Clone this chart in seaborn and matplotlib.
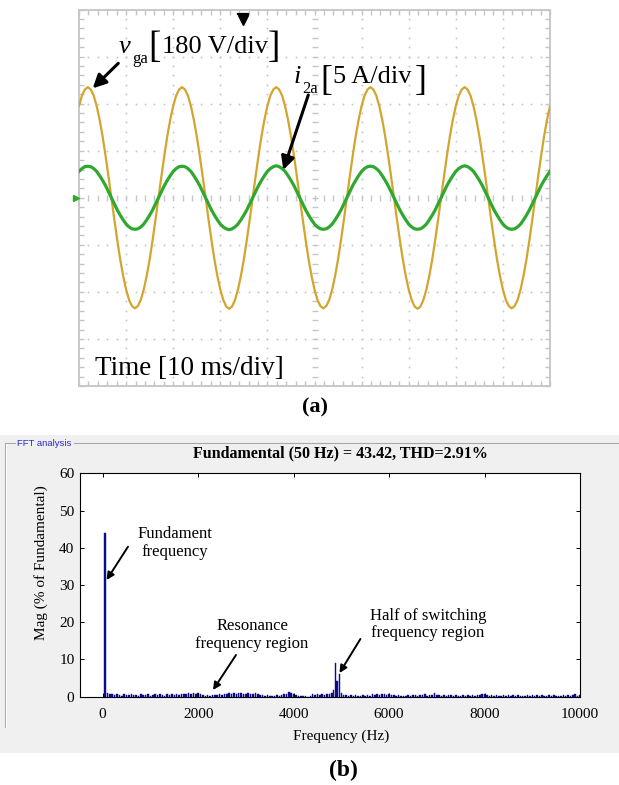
import numpy as np
import pandas as pd
import matplotlib
matplotlib.use("Agg")
import matplotlib.pyplot as plt
import seaborn as sns
from matplotlib.patches import Rectangle, FancyArrowPatch
from matplotlib.lines import Line2D

# ---------------- panel (a): oscilloscope capture (values in divisions) ----------------
sample_ms = 0.625          # spacing of the values
time_per_div_ms = 10
voltage_div = [
    1.95, 2.17, 2.30, 2.35, 2.30, 2.17, 1.95, 1.66, 1.31, 0.90, 0.46, 0.00, -0.46, -0.90, -1.31, -1.66,
    -1.95, -2.17, -2.30, -2.35, -2.30, -2.17, -1.95, -1.66, -1.31, -0.90, -0.46, 0.00, 0.46, 0.90, 1.31, 1.66,
    1.95, 2.17, 2.30, 2.35, 2.30, 2.17, 1.95, 1.66, 1.31, 0.90, 0.46, 0.01, -0.46, -0.90, -1.31, -1.66,
    -1.95, -2.17, -2.31, -2.36, -2.31, -2.17, -1.95, -1.66, -1.31, -0.90, -0.46, 0.00, 0.46, 0.90, 1.31, 1.66,
    1.95, 2.17, 2.30, 2.35, 2.30, 2.17, 1.95, 1.66, 1.31, 0.90, 0.46, 0.00, -0.46, -0.90, -1.31, -1.66,
    -1.95, -2.17, -2.30, -2.35, -2.30, -2.17, -1.95, -1.66, -1.31, -0.90, -0.46, 0.00, 0.46, 0.90, 1.31, 1.66,
    1.95, 2.17, 2.30, 2.35, 2.30, 2.17, 1.95, 1.66, 1.31, 0.90, 0.46, 0.00, -0.46, -0.90, -1.31, -1.66,
    -1.95, -2.17, -2.31, -2.36, -2.31, -2.17, -1.95, -1.66, -1.31, -0.90, -0.46, 0.00, 0.46, 0.90, 1.31, 1.66,
    1.95, 2.17, 2.30, 2.35, 2.30, 2.17, 1.95, 1.66, 1.31, 0.90, 0.46, 0.00, -0.46, -0.90, -1.31, -1.66,
    -1.95, -2.17, -2.30, -2.35, -2.30, -2.17, -1.95, -1.66, -1.31, -0.90, -0.46, 0.00, 0.46, 0.90, 1.31, 1.66,
    1.95,
]
current_div = [
    0.56, 0.62, 0.66, 0.67, 0.66, 0.62, 0.56, 0.47, 0.37, 0.26, 0.13, 0.00, -0.13, -0.26, -0.37, -0.47,
    -0.56, -0.62, -0.66, -0.67, -0.66, -0.62, -0.56, -0.47, -0.37, -0.26, -0.13, 0.00, 0.13, 0.26, 0.37, 0.47,
    0.56, 0.62, 0.66, 0.67, 0.66, 0.62, 0.56, 0.47, 0.37, 0.26, 0.13, 0.00, -0.13, -0.26, -0.37, -0.47,
    -0.56, -0.62, -0.66, -0.68, -0.66, -0.62, -0.56, -0.47, -0.37, -0.26, -0.13, 0.00, 0.13, 0.26, 0.37, 0.47,
    0.56, 0.62, 0.66, 0.68, 0.66, 0.62, 0.56, 0.47, 0.37, 0.26, 0.13, 0.00, -0.13, -0.26, -0.37, -0.47,
    -0.56, -0.62, -0.66, -0.67, -0.66, -0.62, -0.56, -0.47, -0.37, -0.26, -0.13, 0.00, 0.13, 0.26, 0.37, 0.47,
    0.56, 0.62, 0.66, 0.67, 0.66, 0.62, 0.56, 0.47, 0.37, 0.26, 0.13, 0.00, -0.13, -0.26, -0.37, -0.47,
    -0.56, -0.62, -0.66, -0.67, -0.66, -0.62, -0.56, -0.47, -0.37, -0.26, -0.13, 0.00, 0.13, 0.26, 0.37, 0.47,
    0.56, 0.62, 0.66, 0.68, 0.66, 0.62, 0.56, 0.47, 0.37, 0.26, 0.13, 0.00, -0.13, -0.26, -0.37, -0.47,
    -0.56, -0.62, -0.66, -0.67, -0.66, -0.62, -0.56, -0.47, -0.37, -0.26, -0.13, 0.00, 0.13, 0.26, 0.37, 0.47,
    0.56,
]

# ---------------- panel (b): FFT spectrum (% of fundamental) ----------------
fundamental_hz = [50]
fundamental_mag = [43.9]
noise_low_start_hz, noise_step_hz = 100, 50
noise_low_mag = [
    0.9, 0.6, 0.7, 0.4, 0.6, 0.5, 0.3, 0.6, 0.4, 0.5,
    0.7, 0.4, 0.5, 0.3, 0.6, 0.5, 0.4, 0.6, 0.3, 0.5,
    0.6, 0.4, 0.7, 0.5, 0.3, 0.6, 0.5, 0.7, 0.4, 0.6,
    0.5, 0.8, 0.6, 0.7, 0.9, 0.6, 1.0, 0.8, 1.1, 0.6,
    0.4, 0.3, 0.5, 0.3, 0.4, 0.5, 0.4, 0.6, 0.5, 0.8,
    0.6, 0.9, 0.7, 1.0, 0.6, 0.9, 1.1, 0.8, 0.7, 1.0,
    0.8, 0.6, 0.9, 0.7, 0.5, 0.4, 0.3, 0.4, 0.3, 0.2,
    0.3, 0.4, 0.3, 0.5, 0.6, 0.8, 1.3, 0.9, 0.6, 0.5,
    0.3, 0.2, 0.1, 0.1, 0.0, 0.1, 0.6, 0.4, 0.7, 0.5,
    0.6, 0.4, 0.8, 0.6, 1.0,
]
switching_hz = [4840, 4880, 4912, 4960]
switching_mag = [1.8, 9.1, 4.3, 6.1]
noise_high_start_hz = 5000
noise_high_mag = [
    0.9, 0.5, 0.4, 0.3, 0.4, 0.3, 0.4, 0.2, 0.3, 0.4,
    0.3, 0.5, 0.3, 0.6, 0.4, 0.7, 0.5, 0.6, 0.8, 0.5,
    0.6, 0.4, 0.5, 0.3, 0.4, 0.3, 0.2, 0.3, 0.4, 0.3,
    0.5, 0.4, 0.3, 0.5, 0.4, 0.6, 0.3, 0.4, 0.5, 1.1,
    0.5, 0.4, 0.3, 0.4, 0.3, 0.5, 0.4, 0.3, 0.4, 0.2,
    0.3, 0.4, 0.3, 0.5, 0.3, 0.4, 0.3, 0.5, 0.4, 0.6,
    0.8, 0.4, 0.3, 0.4, 0.3, 0.4, 0.2, 0.3, 0.4, 0.3,
    0.4, 0.3, 0.5, 0.3, 0.4, 0.3, 0.2, 0.3, 0.4, 0.3,
    0.4, 0.3, 0.5, 0.3, 0.4, 0.2, 0.3, 0.4, 0.3, 0.4,
    0.3, 0.2, 0.3, 0.4, 0.3, 0.4, 0.3, 0.4, 0.6, 0.3,
    0.5,
]
x_ticks_b = [0, 2000, 4000, 6000, 8000, 10000]
y_ticks_b = [0, 10, 20, 30, 40, 50, 60]
title_b = "Fundamental (50 Hz) = 43.42, THD=2.91%"

# ---------------- figure ----------------
plt.rcParams["font.family"] = ["Liberation Serif", "DejaVu Sans"]
W, H = 619, 785
fig = plt.figure(figsize=(W / 100, H / 100), dpi=100)
fig.patch.set_facecolor("white")


def fx(x):
    return x / W


def fy(y):
    return 1 - y / H


# ===== panel (a) =====
L, R, T, B = 79, 550, 9.5, 386
ax1 = fig.add_axes([fx(L), fy(B), (R - L) / W, (B - T) / H])
ax1.set_xlim(0, 10 * time_per_div_ms)
ax1.set_ylim(-4, 4)
ax1.set_facecolor("white")
for s in ax1.spines.values():
    s.set_color("#c8c8c8")
    s.set_linewidth(1.4)
ax1.set_xticks(np.arange(0, 100.01, 2))
ax1.set_yticks(np.arange(-4, 4.01, 0.2))
ax1.tick_params(direction="in", length=3.6, width=1, color="#c4c4c4",
                top=True, right=True, labelbottom=False, labelleft=False)

grid_col = "#c6c6c6"
gx = np.arange(0, 100.01, 2)
gy = np.arange(-4, 4.01, 0.2)
for i in range(1, 10):
    if i == 5:
        continue
    ax1.scatter(np.full(gy.shape, i * 10.0), gy, s=1.8, color=grid_col, lw=0, zorder=1)
for j in range(-3, 4):
    if j == 0:
        continue
    ax1.scatter(gx, np.full(gx.shape, float(j)), s=1.8, color=grid_col, lw=0, zorder=1)
ax1.plot(gx, np.zeros_like(gx), ls="none", marker="|", ms=4.5, mew=1, color=grid_col, zorder=1)
ax1.plot(np.full(gy.shape, 50.0), gy, ls="none", marker="_", ms=4.5, mew=1, color=grid_col, zorder=1)

t_ms = np.arange(len(voltage_div)) * sample_ms
scope = pd.DataFrame({"t": t_ms, "v": voltage_div, "i": current_div[:len(t_ms)]})
sns.lineplot(data=scope, x="t", y="v", ax=ax1, color="#d4a52e", lw=1.6, zorder=3)
sns.lineplot(data=scope, x="t", y="i", ax=ax1, color="#2ea82e", lw=2.3, zorder=4)
ax1.set_xlabel("")
ax1.set_ylabel("")

# markers on the scope frame
fig.add_artist(Line2D([fx(76)], [fy(198)], marker=">", ms=5, color="#2ea82e", ls="none"))
fig.add_artist(Line2D([fx(238), fx(248)], [fy(13.5), fy(13.5)], color="black", lw=1.6))
fig.add_artist(Line2D([fx(243), fx(243)], [fy(13.5), fy(18)], color="black", lw=1.6))
fig.add_artist(Line2D([fx(243)], [fy(20)], marker="v", ms=7, color="black", ls="none"))

# labels on scope
fig.text(fx(119), fy(53.3), "v", style="italic", fontsize=19, va="baseline")
fig.text(fx(132), fy(63), "ga", fontsize=12, va="baseline")
fig.text(fx(148.5), fy(57.5), "[", fontsize=27, va="baseline")
fig.text(fx(162), fy(53.3), "180 V/div", fontsize=19, va="baseline")
fig.text(fx(268), fy(57.5), "]", fontsize=27, va="baseline")

fig.text(fx(294), fy(83.3), "i", style="italic", fontsize=19, va="baseline")
fig.text(fx(302), fy(93), "2a", fontsize=12, va="baseline")
fig.text(fx(320), fy(90), "[", fontsize=26, va="baseline")
fig.text(fx(333), fy(83.3), "5 A/div", fontsize=19, va="baseline")
fig.text(fx(415), fy(90), "]", fontsize=26, va="baseline")

fig.text(fx(95), fy(375), "Time [10 ms/div]", fontsize=19.5, va="baseline")


def arrow(x0, y0, x1, y1, lw, ms):
    fig.add_artist(FancyArrowPatch((fx(x0), fy(y0)), (fx(x1), fy(y1)),
                                   transform=fig.transFigure, arrowstyle="-|>",
                                   mutation_scale=ms, lw=lw, color="black",
                                   shrinkA=0, shrinkB=0))


arrow(118.3, 63.3, 92.7, 88.3, 2.2, 20)
arrow(308.3, 95, 283.3, 170, 2.2, 20)

fig.text(fx(315), fy(412), "(a)", fontsize=16, fontweight="bold", ha="center", va="baseline")

# ===== panel (b) =====
fig.add_artist(Rectangle((0, fy(753)), 1, (753 - 435) / H, transform=fig.transFigure,
                         facecolor="#f0f0f0", edgecolor="none", zorder=0))
fig.add_artist(Line2D([fx(5), fx(15)], [fy(443.3)] * 2, color="#a8a8a8", lw=0.8))
fig.add_artist(Line2D([fx(74), fx(619)], [fy(443.3)] * 2, color="#a8a8a8", lw=0.8))
fig.add_artist(Line2D([fx(5), fx(5)], [fy(443.3), fy(727)], color="#a8a8a8", lw=0.8))
fig.add_artist(Line2D([fx(6), fx(6)], [fy(444), fy(727)], color="white", lw=0.8))
fig.text(fx(17), fy(444), "FFT analysis", fontsize=6.8, color="#2a2ad0",
         family=["Liberation Sans", "DejaVu Sans"], va="center")

ax2 = fig.add_axes([fx(80), fy(696.7), 500 / W, (696.7 - 473.3) / H])
ax2.set_facecolor("white")

nl_hz = noise_low_start_hz + noise_step_hz * np.arange(len(noise_low_mag))
nh_hz = noise_high_start_hz + noise_step_hz * np.arange(len(noise_high_mag))
spec = pd.DataFrame({
    "freq": np.concatenate([fundamental_hz, nl_hz, switching_hz, nh_hz]).astype(float),
    "mag": np.concatenate([fundamental_mag, noise_low_mag, switching_mag, noise_high_mag]),
})
sns.barplot(data=spec, x="freq", y="mag", native_scale=True, orient="x", ax=ax2,
            color="#0b0b8e", saturation=1, width=1.0, errorbar=None,
            edgecolor="#0b0b8e", linewidth=0.3)

ax2.set_xlim(-475, 10000)
ax2.set_ylim(0, 60)
ax2.set_xticks(x_ticks_b)
ax2.set_xticklabels([str(v) for v in x_ticks_b])
ax2.set_yticks(y_ticks_b)
ax2.set_yticklabels([str(v) for v in y_ticks_b])
ax2.tick_params(direction="in", length=3, width=0.7, top=True, right=True,
                labelsize=11, color="black")
ax2.tick_params(axis="x", pad=8)
ax2.tick_params(axis="y", pad=4)
for s in ax2.spines.values():
    s.set_color("black")
    s.set_linewidth(0.8)

ax2.set_xlabel("Frequency (Hz)", fontsize=11)
ax2.xaxis.label.set_va("center")
ax2.xaxis.set_label_coords((341 - 80) / 500, -(736.7 - 696.7) / 223.4)
ax2.set_ylabel("Mag (% of Fundamental)", fontsize=11)
ax2.yaxis.label.set_va("center")
ax2.yaxis.set_label_coords((41.5 - 80) / 500, (696.7 - 563) / 223.4)
ax2.set_title(title_b, fontsize=11.5, fontweight="bold", x=(340 - 80) / 500,
              y=(696.7 - 461.7) / 223.4, va="center")

fig.text(fx(175), fy(543), "Fundament\nfrequency", fontsize=12, ha="center", va="center",
         linespacing=1.15)
fig.text(fx(252), fy(635), "Resonance\nfrequency region", fontsize=12, ha="center",
         va="center", linespacing=1.15)
fig.text(fx(428), fy(624.5), "Half of switching\nfrequency region", fontsize=12,
         ha="center", va="center", linespacing=1.15)
arrow(128, 546.7, 106.6, 580, 1.4, 11)
arrow(236, 655, 213, 690, 1.4, 11)
arrow(360.4, 639, 339.5, 673, 1.4, 11)

fig.text(fx(343), fy(770), "(b)", fontsize=17, fontweight="bold", ha="center", va="center")

fig.savefig("out.png", dpi=100)
